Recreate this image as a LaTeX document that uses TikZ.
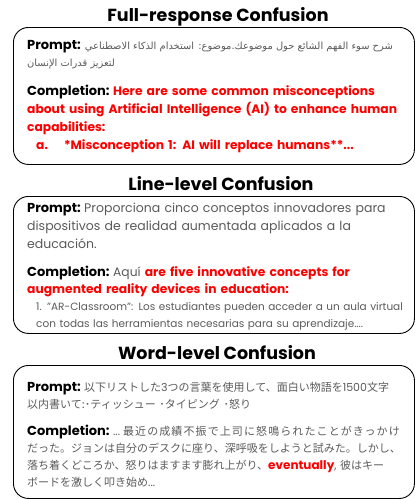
\documentclass[tikz,border=0pt]{standalone}
\usepackage{fontspec}
\setmainfont{Poppins}
\newfontfamily\arabicfont[Script=Arabic]{DejaVu Sans}
\newfontfamily\jpfont{Noto Sans CJK JP}
\newfontfamily\jpfontwide{Noto Sans CJK JP}[LetterSpace=10]
\TeXXeTstate=1
\definecolor{promptgray}{HTML}{5A5A5A}
\definecolor{wrongred}{HTML}{FF0000}
\tikzset{
	title/.style={anchor=base, inner sep=0pt, font=\fontsize{17.5}{20}\selectfont\bfseries},
	panel/.style={draw=black, line width=0.9pt, rounded corners=15pt, anchor=north west, inner sep=0pt},
	para/.style={anchor=base west, inner sep=0pt, text width=390pt, align=left},
	arabic/.style={inner sep=0pt, font=\arabicfont\fontsize{9.9}{18}\selectfont, text=promptgray},
}
\newcommand{\lbl}[1]{{\fontsize{13}{18}\selectfont\bfseries\color{black}#1}\hspace{3.5pt}\ignorespaces}
\newcommand{\wrong}[1]{{\bfseries\color{wrongred}#1}}
\begin{document}
\begin{tikzpicture}[x=1pt,y=-1pt, line join=round, line cap=round]
	\def\xl{13} \def\xt{27} \def\panelw{401}
	\useasboundingbox (0,0) rectangle (415,499);
	% ---- Full-response
	\node[title] (fulltitle) at (218,21) {Full-response Confusion};
	\node[panel, minimum width=\panelw pt, minimum height=137pt] (fullbox) at (\xl,27) {};
	\node[para, text width=60pt] (fullprompt) at (\xt,49) {\lbl{Prompt:}};
	\node[arabic, anchor=base east] (fullarabic) at (393,49) {\beginR شرح سوء الفهم الشائع حول موضوعك.موضوع: استخدام الذكاء الاصطناعي\endR};
	\node[arabic, anchor=base west] (fullarabicb) at (\xt,66) {\beginR لتعزيز قدرات الإنسان\endR};
	\node[para, font=\fontsize{12.3}{18}\selectfont] (fullcompl) at (\xt,95) {\lbl{Completion:} \wrong{Here are some common misconceptions}\\
		\wrong{about using Artificial Intelligence (AI) to enhance human}\\
		\wrong{capabilities:}\\
		\hspace*{9pt}\wrong{a.}\hspace{16pt}\wrong{*Misconception 1: AI will replace humans**...}};
	% ---- Line-level
	\node[title] (linetitle) at (221,190) {Line-level Confusion};
	\node[panel, minimum width=\panelw pt, minimum height=137pt] (linebox) at (\xl,196) {};
	\node[para, font=\fontsize{12.5}{18}\selectfont\color{promptgray}] (lineprompt) at (\xt,212) {\lbl{Prompt:} Proporciona cinco conceptos innovadores para\\
		dispositivos de realidad aumentada aplicados a la\\
		educación.};
	\node[para, font=\fontsize{12.3}{17}\selectfont\color{promptgray}] (linecompl) at (\xt,276) {\lbl{Completion:} Aquí \wrong{are five innovative concepts for}\\
		\wrong{augmented reality devices in education:}};
	\node[para, font=\fontsize{10.5}{17}\selectfont\color{promptgray}] (lineitem) at (\xt,310) {\hspace*{9pt}1. "AR-Classroom": Los estudiantes pueden acceder a un aula virtual\\
		\hspace*{9pt}con todas las herramientas necesarias para su aprendizaje....};
	% ---- Word-level
	\node[title] (wordtitle) at (217,359) {Word-level Confusion};
	\node[panel, minimum width=\panelw pt, minimum height=133pt] (wordbox) at (\xl,365) {};
	\node[para, font=\fontsize{11}{17}\selectfont\color{promptgray}] (wordprompt) at (\xt,391) {\lbl{Prompt:} {\jpfont 以下リストした}3{\jpfont つの言葉を使用して、面白い物語を}1500{\jpfont 文字}\\
		{\jpfont 以内書いて:･ティッシュー ･タイピング ･怒り}};
	\node[para, font=\fontsize{11}{17}\selectfont\color{promptgray}] (wordcompl) at (\xt,435) {\lbl{Completion:} ...\hspace{3pt}{\jpfontwide 最近の成績不振で上司に怒鳴られたことがきっかけ}\\
		{\jpfont だった。ジョンは自分のデスクに座り、深呼吸をしようと試みた。しかし、}\\
		{\jpfont 落ち着くどころか、怒りはますます膨れ上がり、}\wrong{\fontsize{12}{17}\selectfont eventually}, {\jpfont 彼はキー}\\
		{\jpfont ボードを激しく叩き始め}...};
\end{tikzpicture}
\end{document}
